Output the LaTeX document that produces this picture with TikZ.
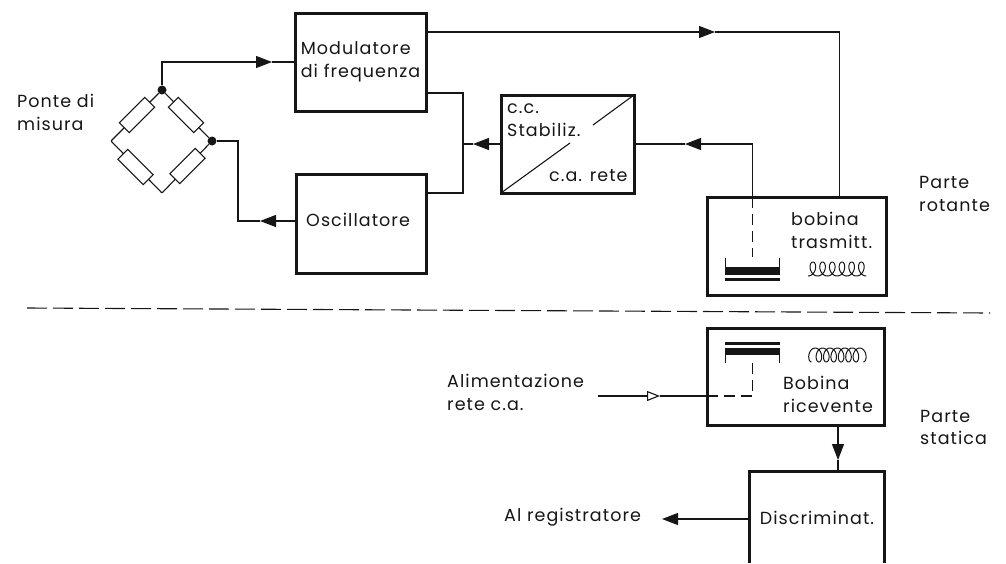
\documentclass[tikz,border=0pt]{standalone}
\usepackage{fontspec}
\setmainfont[LetterSpace=6]{Poppins}
\usepackage{xcolor}
\usetikzlibrary{arrows.meta}
\definecolor{inkblack}{RGB}{22,22,22}
\tikzset{
  blockbox/.style={draw=inkblack,line width=3pt,outer sep=0pt,inner sep=0pt,align=left},
  label/.style={inner sep=0pt,anchor=west,align=left,text=inkblack},
  wire/.style={draw=inkblack,line width=1.1pt},
  wirehead/.style={wire,-{Triangle[length=16pt,width=12pt,fill=inkblack]}},
  openhead/.style={wire,-{Triangle[length=13pt,width=10pt,fill=white]}},
  dashwire/.style={wire,dash pattern=on 11pt off 6pt},
  resistor/.style={draw=inkblack,line width=1.1pt,fill=white,minimum width=36pt,minimum height=14pt,inner sep=0pt},
  joint/.style={circle,fill=inkblack,inner sep=0pt,minimum size=9pt},
  corner/.style={inner sep=0pt,minimum size=0pt},
  coilwire/.style={draw=inkblack,line width=1pt,smooth,samples=160},
}
\begin{document}
\begin{tikzpicture}[x=1pt,y=-1pt,font=\fontsize{17.5}{22.5}\selectfont,text=inkblack]
  \useasboundingbox (0,0) rectangle (1006,563);
  % separation line
  \coordinate (sepL) at (27,308);
  \coordinate (sepR) at (990,313);
  \draw[wire,dash pattern=on 20pt off 6pt] (sepL) -- (sepR);
  % bridge
  \node[joint] (brT) at (162,90) {};
  \node[joint] (brR) at (212,141) {};
  \node[corner] (brL) at (111,141) {};
  \node[corner] (brB) at (162,193) {};
  \draw[wire] (brT) -- (brL) -- (brB) -- (brR) -- (brT);
  \node[resistor,rotate=45] (r1) at (137,115) {};
  \node[resistor,rotate=-45] (r2) at (186,115) {};
  \node[resistor,rotate=-45] (r3) at (135.5,167) {};
  \node[resistor,rotate=45] (r4) at (187.5,166) {};
  \node[label] (ponte) at (17,112.5) {Ponte di\\misura};
  % blocks
  \node[blockbox,minimum width=131pt,minimum height=98pt] (mod) at (360.5,62) {Modulatore\\di frequenza};
  \node[blockbox,minimum width=130pt,minimum height=99pt] (osc) at (361,223.5) {};
  \node[label] (oscT) at (306,220) {Oscillatore};
  \node[blockbox,minimum width=133pt,minimum height=98pt] (stab) at (567.5,144) {};
  \node[label] (stabA) at (507,120) {c.c.\\Stabiliz.};
  \node[label] (stabB) at (549,176) {c.a. rete};
  \node[blockbox,minimum width=179pt,minimum height=98pt] (tras) at (796.5,246) {};
  \node[label] (trasT) at (791,230.5) {bobina\\trasmitt.};
  \node[blockbox,minimum width=177pt,minimum height=97pt] (ric) at (795.5,376.5) {};
  \node[label] (ricT) at (783,394.5) {Bobina\\ricevente};
  \node[inner sep=0pt,minimum width=134pt,minimum height=91pt] (disc) at (817,517.5) {Discriminat.};
  \draw[draw=inkblack,line width=3pt] (disc.south west) |- (disc.north east) -- (disc.south east);
  % side labels
  \node[label] (rot) at (919,194) {Parte\\rotante};
  \node[label] (sta) at (920,427.5) {Parte\\statica};
  \node[label] (ali) at (447,392.5) {Alimentazione\\rete c.a.};
  \node[label] (reg) at (504,517) {Al registratore};
  % stabilizer diagonal
  \coordinate (dgA) at (570,143);
  \coordinate (dgB) at (593,125);
  \draw[wire] (stab.south west) -- (dgA) (dgB) -- (stab.north east);
  % connectors with heads along the line
  \coordinate (tipA) at (272,62);
  \draw[wirehead] (brT) |- (tipA);
  \draw[wire] (tipA) -- (mod.west);
  \coordinate (oscW) at (296,221);
  \coordinate (tipB) at (260,221);
  \coordinate (brK) at (238,221);
  \draw[wirehead] (oscW) -- (tipB);
  \draw[wire] (tipB) -- (brK) |- (brR);
  % supply to the two blocks
  \coordinate (jn) at (463,144);
  \coordinate (modS) at (426,93);
  \coordinate (oscE) at (426,193);
  \coordinate (tipC) at (473,144);
  \draw[wire] (modS) -| (jn) |- (oscE);
  \draw[wirehead] (stab.west) -- (tipC);
  \draw[wire] (tipC) -- (jn);
  % right side
  \coordinate (modE) at (426,32);
  \coordinate (tipD) at (715,32);
  \coordinate (trasN) at (839.5,197);
  \draw[wirehead] (modE) -- (tipD);
  \draw[wire] (tipD) -| (trasN);
  \coordinate (trasD) at (752.5,197);
  \coordinate (tipE) at (685,144);
  \draw[wirehead] (trasD) |- (tipE);
  \draw[wire] (tipE) -- (stab.east);
  % transmitter capacitor and coil
  \coordinate (capD) at (752.5,257);
  \draw[dashwire] (trasD) -- (capD);
  \fill[inkblack] (725,267) rectangle (780,275);
  \fill[inkblack] (725,278) rectangle (780,280.5);
  \draw[wire] (725.5,258) -- (725.5,268) (779.5,258) -- (779.5,268);
  \draw[coilwire] plot[domain=0:2160] ({808+\x/360*9.7+5*sin(\x)},{269+7*cos(\x)});
  % receiver
  \coordinate (ricW) at (707,396);
  \coordinate (aliE) at (598,396);
  \coordinate (tipF) at (660,396);
  \draw[openhead] (aliE) -- (tipF);
  \draw[wire] (tipF) -- (ricW);
  \coordinate (capU) at (752.5,360);
  \draw[dashwire] (ricW) -| (capU);
  \fill[inkblack] (725,341.5) rectangle (780,344.5);
  \fill[inkblack] (725,348) rectangle (780,355);
  \draw[wire] (725.5,354) -- (725.5,363) (779.5,354) -- (779.5,363);
  \draw[coilwire] plot[domain=0:2520] ({811.5+\x/360*7.4-4.5*sin(\x)},{355+7*cos(\x)});
  % receiver to discriminator to recorder
  \coordinate (ricS) at (838,425);
  \coordinate (tipG) at (838,460);
  \coordinate (discN) at (838,472);
  \draw[wirehead] (ricS) -- (tipG);
  \draw[wire] (tipG) -- (discN);
  \coordinate (discW) at (750,519);
  \coordinate (tipH) at (662,519);
  \draw[wirehead] (discW) -- (tipH);
\end{tikzpicture}
\end{document}
